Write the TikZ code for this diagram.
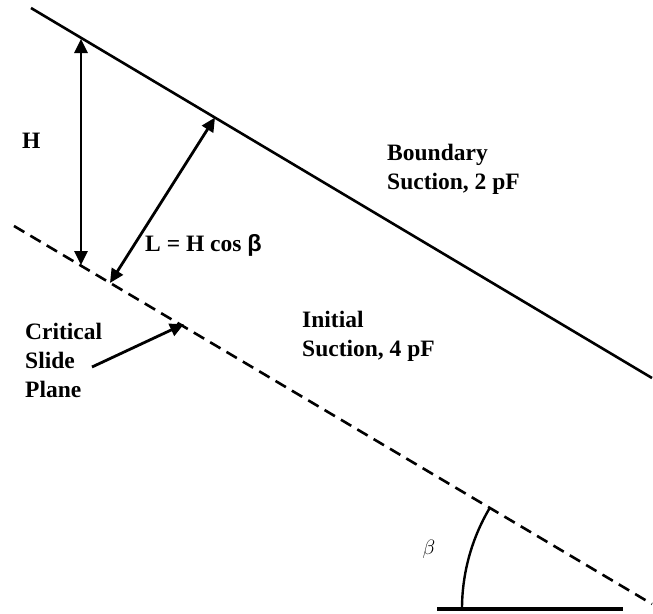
\documentclass[tikz,border=0pt]{standalone}
\usepackage{fontspec}
\setmainfont{Liberation Serif}
\newfontfamily\symf{Liberation Sans}
\usetikzlibrary{arrows.meta}
\begin{document}
\begin{tikzpicture}[x=1pt,y=-1pt,
  lbl/.style={font=\fontsize{23.5}{29}\selectfont\bfseries, inner sep=0pt, align=left, anchor=north west},
  dimarrow/.style={line width=2.8pt, {Triangle[length=14pt,width=13pt]}-{Triangle[length=14pt,width=13pt]}},
  ptrarrow/.style={line width=2.8pt, -{Triangle[length=14pt,width=13pt]}},
  slope/.style={line width=2.6pt},
  slip/.style={line width=2.6pt, dash pattern=on 12pt off 7pt}]
\useasboundingbox (0,0) rectangle (653,613);
% ground surface and critical slide plane
\coordinate (s1) at (31,8);
\coordinate (s2) at (652,378);
\coordinate (d1) at (14,226);
\coordinate (d2) at (652,604);
\draw[slope] (s1) -- (s2);
\draw[slip] (d1) -- (d2);
% dimension arrows
\coordinate (htop) at (81,39);
\coordinate (hbot) at (81,265);
\draw[dimarrow] (hbot) -- (htop);
\coordinate (lbot) at (110,283);
\coordinate (ltop) at (215,117.5);
\draw[dimarrow] (lbot) -- (ltop);
% labels
\node[lbl] (H) at (22,133) {H};
\node[lbl] (L) at (145,234) {L = H cos {\symf\bfseries β}};
\node[lbl] (bnd) at (387,144) {Boundary\\Suction, 2 pF};
\node[lbl] (ini) at (302,311) {Initial\\Suction, 4 pF};
\node[lbl] (crit) at (25,323) {Critical\\Slide\\Plane};
\coordinate (ctip) at (184,324);
\draw[ptrarrow] (92,367) coordinate (cstart) -- (ctip);
% angle
\coordinate (base1) at (437,609);
\coordinate (base2) at (623,609);
\draw[line width=3.4pt] (base1) -- (base2);
\coordinate (arc0) at (462,609);
\draw[line width=2.4pt] (arc0) arc[start angle=180, end angle=210.67, radius=198];
\node[inner sep=0pt] (beta) at (429,549) {\fontsize{20}{24}\selectfont$\beta$};
\end{tikzpicture}
\end{document}
